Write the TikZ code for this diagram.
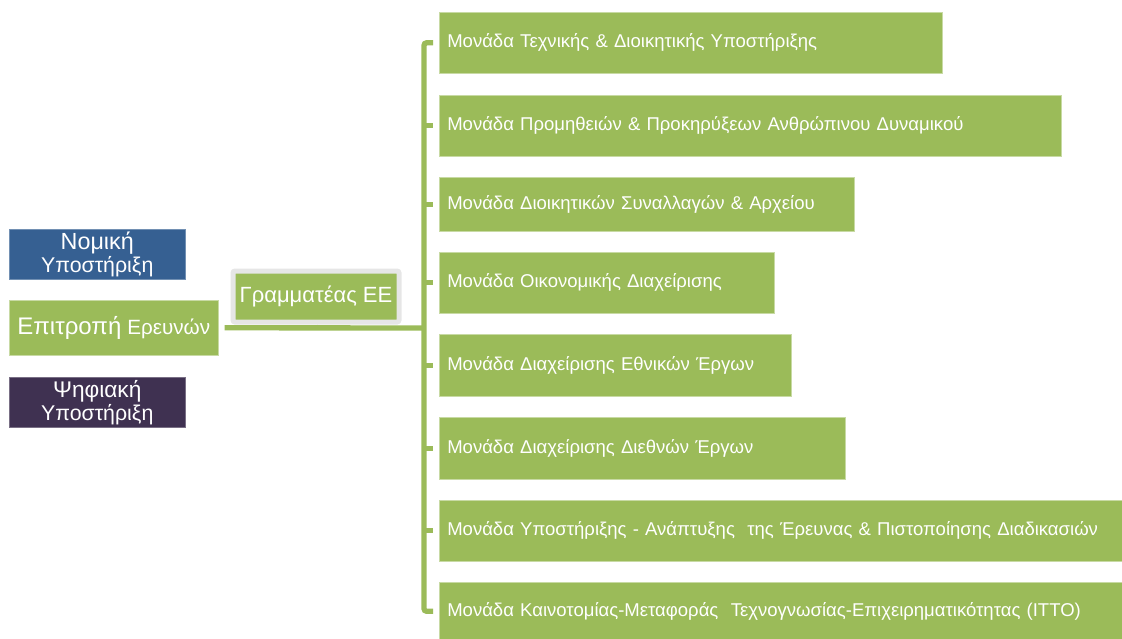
\documentclass[tikz,border=0pt]{standalone}
\usepackage{fontspec}
\setmainfont{Liberation Sans}

\definecolor{unitgreen}{HTML}{9BBB59}
\definecolor{legalblue}{HTML}{366092}
\definecolor{digipurple}{HTML}{3F3151}
\definecolor{framegray}{HTML}{E6E6E6}

\tikzset{
  box/.style={fill=unitgreen, text=white, inner sep=0pt, draw=unitgreen!55!white, line width=0.4pt},
  unit/.style={box, anchor=north west, align=left, inner xsep=6pt, minimum height=45.75pt, font=\fontsize{13.9}{16}\selectfont},
  side/.style={box, anchor=north west, align=center, minimum width=132pt, minimum height=37.5pt, font=\fontsize{16}{17.25}\selectfont},
  link/.style={draw=unitgreen, line width=4pt},
}

\begin{document}
\begin{tikzpicture}[x=0.75pt, y=-0.75pt]
  \useasboundingbox (0,0) rectangle (1122,639);

  % left column
  \node[side, fill=legalblue, draw=legalblue!70!white] (legal) at (9,229) {{\fontsize{17.5}{17}\selectfont Νομική}\\Υποστήριξη};
  \node[side, minimum width=156.75pt, minimum height=41.25pt] (comm) at (9,300)
    {{\fontsize{18}{20}\selectfont Επιτροπή} {\fontsize{15.5}{20}\selectfont Ερευνών}};
  \node[side, fill=digipurple, draw=digipurple!70!white] (digital) at (9,377) {{\fontsize{17}{17}\selectfont Ψηφιακή}\\Υποστήριξη};

  % secretary
  \node[box, anchor=north west, draw=framegray, line width=3.75pt, rounded corners=1.5pt,
        minimum width=124.5pt, minimum height=38.25pt, font=\fontsize{16.5}{18}\selectfont]
        (sec) at (230.5,268.5) {Γραμματέας ΕΕ};

  % units
  \node[unit, text width=365.25pt] (u1) at (439,12) {Μονάδα Τεχνικής \& Διοικητικής Υποστήριξης};
  \node[unit, text width=454.5pt] (u2) at (439,95) {Μονάδα Προμηθειών \& Προκηρύξεων Ανθρώπινου Δυναμικού};
  \node[unit, text width=299.25pt, minimum height=40.5pt] (u3) at (439,177) {Μονάδα Διοικητικών Συναλλαγών \& Αρχείου};
  \node[unit, text width=239.25pt] (u4) at (439,252) {Μονάδα Οικονομικής Διαχείρισης};
  \node[unit, text width=252pt, minimum height=46.5pt] (u5) at (439,334) {Μονάδα Διαχείρισης Εθνικών Έργων};
  \node[unit, text width=292.5pt, minimum height=46.5pt] (u6) at (439,417) {Μονάδα Διαχείρισης Διεθνών Έργων};
  \node[unit, text width=513pt] (u7) at (439,500) {Μονάδα Υποστήριξης - Ανάπτυξης\ \ της Έρευνας \& Πιστοποίησης Διαδικασιών};
  \node[unit, text width=513pt, minimum height=43.5pt] (u8) at (439,582) {Μονάδα Καινοτομίας-Μεταφοράς\ \ Τεχνογνωσίας-Επιχειρηματικότητας (ΙΤΤΟ)};

  % connectors
  \coordinate (spine) at (424,328);
  \draw[link] ([xshift=4.5pt]comm.east) -- (spine);
  \draw[link, line width=3pt] (sec.south) -- (sec.south |- spine);
  \draw[link, rounded corners=2pt] ([xshift=-4.5pt]u1.west) -| (spine) |- ([xshift=-4.5pt]u8.west);
  \foreach \i in {2,...,7}
    \draw[link, line width=3.5pt] (spine |- u\i.west) -- ([xshift=-4.5pt]u\i.west);
\end{tikzpicture}
\end{document}
